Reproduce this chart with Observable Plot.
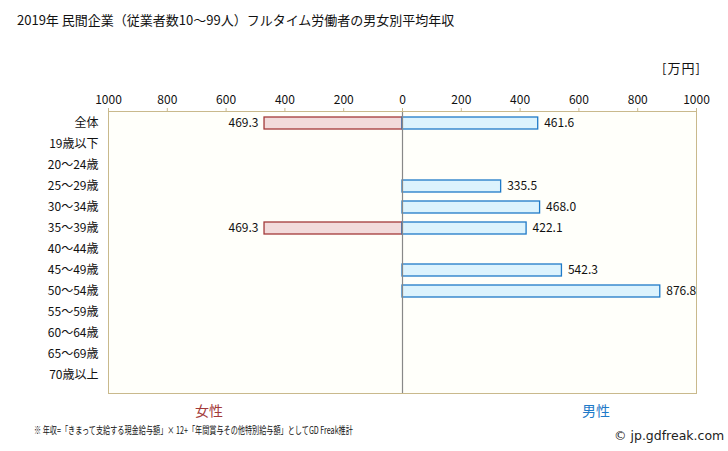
<!DOCTYPE html>
<html><head><meta charset="utf-8">
<script src="https://cdn.jsdelivr.net/npm/d3@7"></script>
<script src="https://cdn.jsdelivr.net/npm/@observablehq/plot@0.6"></script>
<style>
body{margin:0;background:#fff;font-family:"Noto Sans CJK JP","Noto Sans",sans-serif;}
#wrap{position:relative;width:728px;height:451px;overflow:hidden;background:#fff}
#title{position:absolute;left:17px;top:10px;font-size:13px;color:#111;white-space:nowrap}
#unit{position:absolute;left:662px;top:58px;font-size:13px;letter-spacing:1px;color:#111}
#chart{position:absolute;left:0;top:40px}
#female{position:absolute;left:195px;top:400px;font-size:14px;color:#a33a3a}
#male{position:absolute;left:582px;top:400px;font-size:14px;color:#1f7ac8}
#note{position:absolute;left:34px;top:422px;font-size:10.2px;color:#111;white-space:nowrap;transform:scaleX(0.7);transform-origin:left center}
#credit{position:absolute;left:614px;top:428px;font-size:12.5px;color:#222;white-space:nowrap;font-family:"DejaVu Sans",sans-serif}
</style></head><body>
<div id="wrap">
<div id="title">2019年 民間企業（従業者数10～99人）フルタイム労働者の男女別平均年収</div>
<div id="unit">[万円]</div>
<div id="chart"></div>
<div id="female">女性</div>
<div id="male">男性</div>
<div id="note">※ 年収=「きまって支給する現金給与額」× 12+「年間賞与その他特別給与額」としてGD Freak推計</div>
<div id="credit">© jp.gdfreak.com</div>
</div>
<script>
const categories = ["全体","19歳以下","20～24歳","25～29歳","30～34歳","35～39歳","40～44歳","45～49歳","50～54歳","55～59歳","60～64歳","65～69歳","70歳以上"];
const femaleValues = [469.3,null,null,null,null,469.3,null,null,null,null,null,null,null];
const maleValues = [461.6,null,null,335.5,468.0,422.1,null,542.3,876.8,null,null,null,null];
const tickValues = [-1000,-800,-600,-400,-200,0,200,400,600,800,1000];

const female = categories.map((c,i)=>({c, v:femaleValues[i]})).filter(d=>d.v!=null);
const male = categories.map((c,i)=>({c, v:maleValues[i]})).filter(d=>d.v!=null);
const tan = "#c9b98c";
const font = '"Noto Sans CJK JP","Noto Sans",sans-serif';

const chart = Plot.plot({
  width:728, height:360,
  marginTop:71, marginBottom:7, marginLeft:108, marginRight:32,
  style:{fontSize:"12px", fontFamily:font, background:"transparent", color:"#111"},
  x:{domain:[-1000,1000], label:null, axis:null},
  y:{domain:categories, range:[72.5, 345.5], paddingInner:0.44, paddingOuter:0.22, label:null, axis:null},
  marks:[
    Plot.frame({fill:"#fffffa", stroke:tan}),
    Plot.barX(female, {x1:d=>-d.v, x2:0, y:"c", fill:"#f2dbdb", stroke:"#a33a3a", strokeWidth:1.3}),
    Plot.barX(male, {x1:0, x2:"v", y:"c", fill:"#dcf3fd", stroke:"#1f7ac8", strokeWidth:1.3}),
    Plot.ruleX([0], {stroke:"#888", strokeWidth:1.2}),
    Plot.text(female, {x:d=>-d.v, y:"c", text:d=>d.v.toFixed(1), textAnchor:"end", dx:-6, fill:"#111"}),
    Plot.text(male, {x:"v", y:"c", text:d=>d.v.toFixed(1), textAnchor:"start", dx:6, fill:"#111"}),
    Plot.axisX({anchor:"top", ticks:tickValues, tickFormat:d=>String(Math.abs(d)), tickSize:4, tickPadding:4, stroke:tan, fill:"#111", label:null}),
    Plot.axisY({anchor:"left", tickSize:0, tickPadding:10, fill:"#111", label:null})
  ]
});
document.getElementById("chart").appendChild(chart);
</script>
</body></html>
